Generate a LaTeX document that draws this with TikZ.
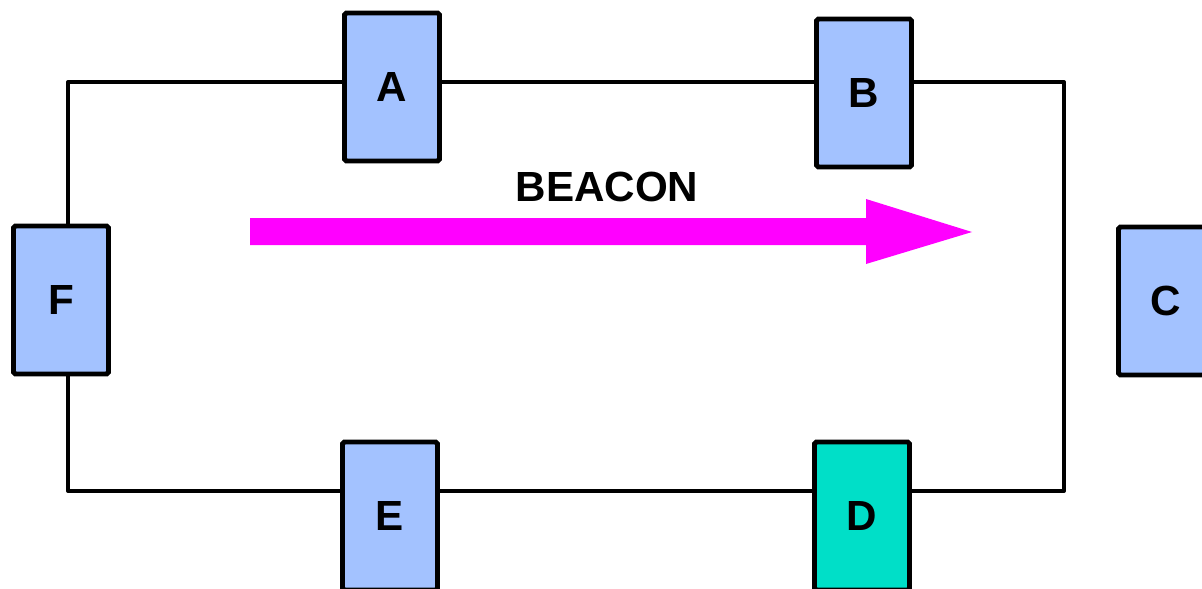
\documentclass[tikz,border=0pt]{standalone}
\usepackage{fontspec}
\setmainfont{Liberation Sans}
\definecolor{stationblue}{HTML}{A3C2FF}
\definecolor{stationteal}{HTML}{00DFC8}
\definecolor{beaconpink}{HTML}{FF00FF}
\begin{document}
\begin{tikzpicture}[x=0.02cm, y=-0.02cm, line width=2.3pt,
    station/.style={rectangle,draw,line width=2.8pt,rounded corners=1pt,fill=stationblue,minimum width=1.9cm,minimum height=2.96cm,font=\fontsize{24}{28}\selectfont\bfseries},
    active station/.style={station,fill=stationteal} ]
    \useasboundingbox (0,0) rectangle (1202,588);
    \coordinate (tl) at (68,82);
    \coordinate (tr) at (1064,82);
    \coordinate (br) at (1064,491);
    \coordinate (bl) at (68,491);
    \draw [line join=round] (tl) -- (tr) -- (br) -- (bl) -- cycle;
    \node at (392,87) [station] (A) {A};
    \node at (864,93) [station] (B) {B};
    \node at (1166,301) [station] (C) {C};
    \node at (862,516) [active station] (D) {D};
    \node at (390,516) [station] (E) {E};
    \node at (61,300) [station] (F) {F};
    %\draw [-] (A) to (B);
    \node at (607,187) (beacon) {\fontsize{24}{28}\selectfont\bfseries BEACON};
    \fill [beaconpink] (250,218) -- (866,218) -- (866,199) -- (972,232)
        -- (866,264) -- (866,245) -- (250,245) -- cycle;
\end{tikzpicture}
\end{document}
